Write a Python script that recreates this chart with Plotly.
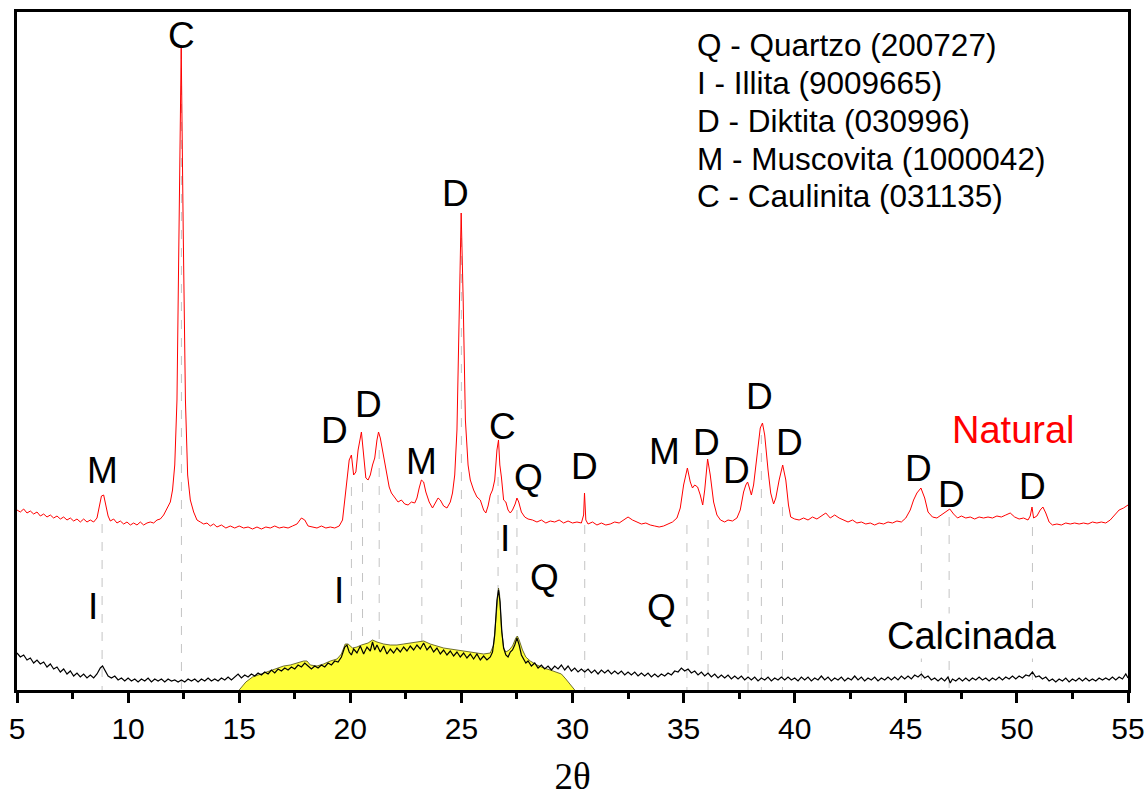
import plotly.graph_objects as go

# ---------------- data (2theta, intensity a.u.) ----------------
natural_pts = [
    (5.0,180),(5.15,178),(5.3,181),(5.45,177),(5.6,179),(5.75,176),(5.9,178),(6.05,174),(6.2,176),
    (6.35,173),(6.5,175),(6.65,172),(6.8,174),(6.95,171),(7.1,173),(7.25,170),(7.4,172),(7.55,169),
    (7.7,171),(7.85,168),(8.0,171),(8.15,168),(8.3,170),(8.45,168),(8.6,172),(8.7,182),(8.8,194),
    (8.9,195),(9.0,186),(9.1,174),(9.2,169),(9.35,171),(9.5,167),(9.65,169),(9.8,166),(9.95,168),
    (10.1,165),(10.25,167),(10.4,165),(10.55,168),(10.7,165),(10.85,167),(11.0,168),(11.15,167),
    (11.3,170),(11.45,171),(11.6,175),(11.75,181),(11.9,188),(12.0,200),(12.1,225),(12.2,290),
    (12.3,450),(12.39,642),(12.48,460),(12.58,290),(12.68,215),(12.8,190),(12.95,178),(13.1,170),
    (13.25,168),(13.4,166),(13.55,167),(13.7,164),(13.85,166),(14.0,163),(14.2,165),(14.4,162),
    (14.6,164),(14.8,162),(15.0,164),(15.2,162),(15.4,163),(15.6,161),(15.8,163),(16.0,161),
    (16.2,163),(16.4,162),(16.6,164),(16.8,162),(17.0,163),(17.2,162),(17.4,164),(17.6,166),
    (17.8,172),(17.95,170),(18.1,164),(18.3,163),(18.5,162),(18.7,164),(18.9,162),(19.1,163),
    (19.3,162),(19.5,164),(19.65,170),(19.75,190),(19.85,212),(19.95,230),(20.05,235),(20.15,215),
    (20.25,218),(20.35,240),(20.5,258),(20.6,238),(20.7,212),(20.8,210),(20.9,215),(21.0,225),
    (21.1,232),(21.2,250),(21.27,258),(21.35,252),(21.45,240),(21.55,225),(21.65,213),(21.75,203),
    (21.85,197),(22.0,192),(22.15,188),(22.3,190),(22.45,186),(22.6,185),(22.75,188),(22.9,187),
    (23.0,192),(23.1,202),(23.2,210),(23.3,208),(23.4,198),(23.55,188),(23.7,182),(23.85,188),
    (23.95,192),(24.05,190),(24.2,184),(24.35,182),(24.5,188),(24.6,197),(24.7,215),(24.8,260),
    (24.9,380),(24.99,477),(25.08,390),(25.18,270),(25.3,225),(25.4,210),(25.55,200),(25.7,193),
    (25.85,190),(26.0,180),(26.1,177),(26.2,184),(26.3,195),(26.4,200),(26.5,210),(26.6,240),
    (26.67,250),(26.73,225),(26.8,213),(26.9,190),(27.0,188),(27.1,180),(27.2,177),(27.3,180),
    (27.42,186),(27.5,192),(27.58,188),(27.7,178),(27.85,173),(28.0,171),(28.2,170),(28.4,168),
    (28.6,170),(28.8,167),(29.0,169),(29.2,168),(29.4,170),(29.6,167),(29.8,169),(30.0,167),
    (30.2,168),(30.4,167),(30.5,175),(30.54,197),(30.6,170),(30.7,166),(30.9,168),(31.1,165),
    (31.3,167),(31.5,165),(31.7,166),(31.9,168),(32.1,167),(32.3,170),(32.5,173),(32.7,170),
    (32.9,168),(33.1,166),(33.3,167),(33.5,165),(33.7,164),(33.9,163),(34.1,164),(34.3,166),
    (34.5,168),(34.7,172),(34.85,182),(35.0,205),(35.17,222),(35.3,208),(35.4,202),(35.5,205),
    (35.63,203),(35.75,195),(35.86,185),(35.95,200),(36.08,231),(36.2,215),(36.35,188),(36.5,175),
    (36.66,170),(36.85,168),(37.0,170),(37.2,169),(37.4,172),(37.55,180),(37.7,198),(37.8,205),
    (37.88,208),(37.95,203),(38.05,195),(38.15,205),(38.3,235),(38.45,262),(38.55,267),(38.65,255),
    (38.8,220),(38.92,197),(39.05,186),(39.15,192),(39.3,210),(39.46,225),(39.6,210),(39.72,185),
    (39.82,173),(40.0,171),(40.2,170),(40.4,172),(40.6,170),(40.8,173),(41.0,171),(41.2,174),
    (41.4,177),(41.6,172),(41.8,175),(42.0,172),(42.2,170),(42.4,168),(42.6,170),(42.8,167),
    (43.0,168),(43.2,166),(43.4,167),(43.6,165),(43.8,167),(44.0,166),(44.2,168),(44.4,167),
    (44.6,169),(44.8,168),(45.0,172),(45.2,180),(45.35,190),(45.5,197),(45.68,202),(45.85,192),
    (46.0,178),(46.2,173),(46.4,172),(46.6,175),(46.8,178),(46.98,181),(47.15,176),(47.33,172),
    (47.5,174),(47.7,172),(47.9,173),(48.1,171),(48.3,173),(48.5,172),(48.7,173),(48.9,172),
    (49.1,174),(49.3,173),(49.5,175),(49.7,177),(49.9,173),(50.1,171),(50.3,172),(50.5,170),
    (50.6,174),(50.68,183),(50.75,172),(50.9,174),(51.05,180),(51.17,183),(51.3,177),(51.45,168),
    (51.6,165),(51.8,166),(52.0,165),(52.2,167),(52.4,166),(52.6,167),(52.8,166),(53.0,167),
    (53.2,166),(53.4,168),(53.6,167),(53.8,168),(54.0,167),(54.2,170),(54.4,175),(54.6,180),
    (54.8,182),(55.0,185),
]

calcinada_pts = [
    (5.0,37),(5.15,33),(5.3,35),(5.45,30),(5.6,32),(5.75,27),(5.9,30),(6.05,26),(6.2,28),(6.35,23),
    (6.5,26),(6.65,21),(6.8,23),(6.95,18),(7.1,21),(7.25,16),(7.4,19),(7.55,14),(7.7,17),(7.85,13),
    (8.0,16),(8.15,12),(8.3,15),(8.45,12),(8.6,16),(8.75,22),(8.85,24),(8.95,20),(9.1,14),(9.25,12),
    (9.4,14),(9.55,10),(9.7,12),(9.85,9),(10.0,12),(10.15,9),(10.3,11),(10.45,8),(10.6,11),(10.75,9),
    (10.9,12),(11.05,8),(11.2,11),(11.35,9),(11.5,11),(11.65,8),(11.8,11),(11.95,9),(12.1,10),
    (12.25,8),(12.4,10),(12.55,8),(12.7,11),(12.85,9),(13.0,11),(13.15,8),(13.3,11),(13.45,9),
    (13.6,12),(13.75,9),(13.9,11),(14.05,9),(14.2,12),(14.35,10),(14.5,13),(14.65,10),(14.8,13),
    (14.95,16),(15.1,12),(15.25,15),(15.4,13),(15.55,16),(15.7,14),(15.85,17),(16.0,15),(16.15,18),
    (16.3,16),(16.45,20),(16.6,17),(16.75,21),(16.9,19),(17.05,22),(17.2,20),(17.35,23),(17.5,21),
    (17.65,25),(17.8,23),(17.95,27),(18.1,24),(18.25,21),(18.4,24),(18.55,22),(18.7,25),(18.85,23),
    (19.0,27),(19.15,25),(19.3,29),(19.45,28),(19.6,33),(19.75,43),(19.85,45),(19.95,38),(20.05,35),
    (20.15,41),(20.3,37),(20.45,44),(20.6,36),(20.75,43),(20.9,39),(21.0,48),(21.1,40),(21.2,45),
    (21.35,38),(21.5,44),(21.65,36),(21.8,41),(21.95,37),(22.1,42),(22.25,38),(22.4,43),(22.55,39),
    (22.7,44),(22.85,40),(23.0,45),(23.15,41),(23.3,47),(23.45,40),(23.6,44),(23.75,38),(23.9,42),
    (24.05,36),(24.2,40),(24.35,35),(24.5,39),(24.65,34),(24.8,38),(24.95,33),(25.1,37),(25.25,32),
    (25.4,36),(25.55,31),(25.7,36),(25.85,30),(26.0,34),(26.15,30),(26.3,33),(26.4,38),(26.5,55),
    (26.6,90),(26.67,100),(26.74,88),(26.82,58),(26.9,42),(27.0,35),(27.1,33),(27.2,38),(27.3,40),
    (27.4,45),(27.5,52),(27.6,45),(27.7,35),(27.8,31),(27.9,27),(28.0,29),(28.15,24),(28.3,27),
    (28.45,22),(28.6,25),(28.75,21),(28.9,24),(29.05,20),(29.2,24),(29.35,21),(29.5,25),(29.65,20),
    (29.8,24),(29.95,19),(30.1,22),(30.25,18),(30.4,21),(30.55,18),(30.7,21),(30.85,17),(31.0,20),
    (31.15,16),(31.3,20),(31.45,17),(31.6,20),(31.75,16),(31.9,19),(32.05,16),(32.2,19),(32.35,15),
    (32.5,18),(32.65,15),(32.8,18),(32.95,14),(33.1,17),(33.25,14),(33.4,17),(33.55,13),(33.7,16),
    (33.85,13),(34.0,16),(34.15,14),(34.3,17),(34.45,15),(34.6,19),(34.75,18),(34.9,22),(35.05,19),
    (35.2,21),(35.35,17),(35.5,19),(35.65,15),(35.8,18),(35.95,14),(36.1,17),(36.25,13),(36.4,16),
    (36.55,12),(36.7,15),(36.85,12),(37.0,15),(37.15,11),(37.3,14),(37.45,11),(37.6,14),(37.75,10),
    (37.9,13),(38.05,10),(38.2,13),(38.35,9),(38.5,12),(38.65,10),(38.8,13),(38.95,9),(39.1,12),
    (39.25,10),(39.4,13),(39.55,10),(39.7,13),(39.85,10),(40.0,12),(40.15,9),(40.3,13),(40.45,10),
    (40.6,13),(40.75,9),(40.9,12),(41.05,10),(41.2,14),(41.35,10),(41.5,13),(41.65,9),(41.8,12),
    (41.95,10),(42.1,13),(42.25,9),(42.4,12),(42.55,10),(42.7,14),(42.85,10),(43.0,13),(43.15,9),
    (43.3,12),(43.45,10),(43.6,13),(43.75,9),(43.9,12),(44.05,10),(44.2,13),(44.35,10),(44.5,13),
    (44.65,10),(44.8,14),(44.95,11),(45.1,14),(45.25,11),(45.4,15),(45.55,13),(45.7,16),(45.85,12),
    (46.0,14),(46.15,10),(46.3,12),(46.45,9),(46.6,12),(46.75,9),(46.9,13),(47.0,7),(47.1,11),
    (47.25,9),(47.4,12),(47.55,9),(47.7,12),(47.85,9),(48.0,12),(48.15,10),(48.3,13),(48.45,10),
    (48.6,12),(48.75,9),(48.9,12),(49.05,10),(49.2,13),(49.35,10),(49.5,13),(49.65,11),(49.8,14),
    (49.95,11),(50.1,14),(50.25,12),(50.4,15),(50.55,14),(50.7,18),(50.85,13),(51.0,14),(51.15,11),
    (51.3,13),(51.45,9),(51.6,11),(51.75,8),(51.9,11),(52.05,9),(52.2,12),(52.35,8),(52.5,11),
    (52.65,9),(52.8,12),(52.95,9),(53.1,12),(53.25,9),(53.4,11),(53.55,9),(53.7,12),(53.85,10),
    (54.0,12),(54.15,10),(54.3,13),(54.45,10),(54.6,13),(54.75,11),(54.9,16),(55.0,12),
]

amorphous_pts = [
    (15.0,0),(15.3,8),(15.6,13),(16.0,16),(16.4,19),(16.7,22),(17.0,24),(17.3,25),(17.6,27),(17.9,29),
    (18.05,29),(18.2,25),(18.5,24),(18.8,26),(19.1,29),(19.4,31),(19.6,36),(19.77,46),(19.9,46),
    (20.1,42),(20.3,43),(20.5,45),(20.8,47),(21.0,50),(21.2,48),(21.5,46),(21.8,45),(22.1,45),
    (22.4,46),(22.7,47),(23.0,48),(23.3,49),(23.6,46),(23.9,44),(24.2,42),(24.5,41),(24.8,40),
    (25.1,39),(25.4,38),(25.7,37),(26.0,36),(26.3,37),(26.45,45),(26.55,70),(26.62,95),(26.67,102),
    (26.72,95),(26.8,62),(26.9,42),(27.0,38),(27.15,40),(27.3,44),(27.45,52),(27.52,54),(27.6,50),
    (27.75,40),(27.9,33),(28.1,29),(28.4,25),(28.7,22),(29.0,20),(29.3,18),(29.5,16),(29.7,11),
    (29.9,5),(30.1,0),
]

# reference (dashed) lines: position, top intensity
ref_pos = [8.83, 12.4, 20.05, 20.55, 21.3, 23.22, 25.0, 26.65, 27.5, 30.55,
           35.15, 36.1, 37.9, 38.5, 39.45, 45.7, 46.95, 50.7]
ref_top = [166, 640, 203, 207, 240, 183, 470, 213, 180, 165,
           165, 170, 170, 255, 183, 163, 173, 163]

# phase labels: text, x, y
lab_text = ["C", "M", "D", "D", "M", "D", "C", "Q", "D", "M", "D", "D", "D", "D", "D", "D", "D",
            "I", "I", "I", "Q", "Q"]
lab_x = [12.39, 8.87, 19.28, 20.81, 23.2, 24.73, 26.85, 28.02, 30.54, 34.14, 36.04, 37.39, 38.42,
         39.77, 45.59, 47.07, 50.72, 8.42, 19.5, 26.98, 28.74, 34.0]
lab_y = [655, 220, 260, 286, 229, 497, 264, 213, 224, 239, 248, 220, 294, 248, 222, 196, 204,
         84, 100, 152, 113, 83]

legend_lines = ["Q - Quartzo (200727)", "I - Illita (9009665)", "D - Diktita (030996)",
                "M - Muscovita (1000042)", "C - Caulinita (031135)"]
legend_y = [645, 607, 569, 531, 494]

x_ticks = [5, 10, 15, 20, 25, 30, 35, 40, 45, 50, 55]

# ---------------- figure ----------------
fig = go.Figure()

rx, ry = [], []
for p, t in zip(ref_pos, ref_top):
    rx += [p, p, None]
    ry += [t, 0, None]
fig.add_trace(go.Scatter(x=rx, y=ry, mode="lines",
                         line=dict(color="#c4c4c4", width=1, dash="dash"),
                         hoverinfo="skip", showlegend=False))

fig.add_trace(go.Scatter(x=[p[0] for p in amorphous_pts], y=[p[1] for p in amorphous_pts],
                         mode="lines", fill="tozeroy", fillcolor="#FFFF3C",
                         line=dict(color="#4a4a10", width=0.8), showlegend=False))

fig.add_trace(go.Scatter(x=[p[0] for p in calcinada_pts], y=[p[1] for p in calcinada_pts],
                         mode="lines", line=dict(color="black", width=1.2), showlegend=False))

fig.add_trace(go.Scatter(x=[p[0] for p in natural_pts], y=[p[1] for p in natural_pts],
                         mode="lines", line=dict(color="#FF0000", width=1), showlegend=False))

FONT = "Liberation Sans, Arial, sans-serif"
for t, x, y in zip(lab_text, lab_x, lab_y):
    fig.add_annotation(x=x, y=y, text=t, showarrow=False, xanchor="center", yanchor="middle",
                       font=dict(family=FONT, size=37, color="black"))

fig.add_annotation(x=49.86, y=260, text="Natural", showarrow=False, xanchor="center",
                   yanchor="middle", font=dict(family=FONT, size=38, color="#FF0000"))
fig.add_annotation(x=48.0, y=54, text="Calcinada", showarrow=False, xanchor="center",
                   yanchor="middle", bgcolor="white",
                   font=dict(family=FONT, size=38, color="black"))

for txt, y in zip(legend_lines, legend_y):
    fig.add_annotation(x=35.52, y=y, text=txt, showarrow=False, xanchor="left",
                       yanchor="middle", align="left",
                       font=dict(family=FONT, size=31.5, color="black"))

fig.update_layout(
    width=1147, height=805,
    margin=dict(l=17, r=19, t=12, b=115),
    paper_bgcolor="white", plot_bgcolor="white",
    xaxis=dict(range=[5, 55], tickvals=x_ticks, ticks="outside", ticklen=10, tickwidth=2.5,
               tickcolor="black", showline=True, linewidth=2.5, linecolor="black", mirror=True,
               showgrid=False, zeroline=False, automargin=False,
               minor=dict(dtick=2.5, ticks="outside", ticklen=6, tickwidth=2.5, tickcolor="black"),
               tickfont=dict(family=FONT, size=30, color="black"),
               title=dict(text="2θ", standoff=20,
                          font=dict(family="Liberation Serif, Times New Roman, serif", size=37,
                                    color="black"))),
    yaxis=dict(range=[0, 678], showticklabels=False, ticks="", showline=True, linewidth=2.5,
               linecolor="black", mirror=True, showgrid=False, zeroline=False, automargin=False),
)

fig.write_html("out.html")
